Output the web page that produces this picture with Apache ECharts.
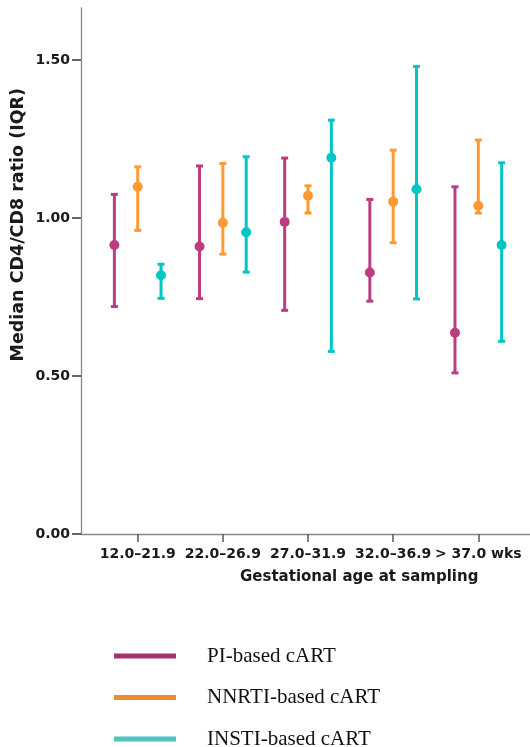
<!DOCTYPE html>
<html><head><meta charset="utf-8">
<script src="https://cdn.jsdelivr.net/npm/echarts@6/dist/echarts.min.js"></script>
<style>html,body{margin:0;padding:0;background:#fff}#c{width:530px;height:747px}</style>
</head><body><div id="c"></div>
<script>
const categories = ['12.0\u201321.9', '22.0\u201326.9', '27.0\u201331.9', '32.0\u201336.9', '> 37.0 wks'];
const yTicks = [0, 0.5, 1.0, 1.5];
const seriesNames = ['PI-based cART', 'NNRTI-based cART', 'INSTI-based cART'];
// [low (Q1), median, high (Q3)] per category
const piValues = [[0.72, 0.915, 1.075], [0.745, 0.91, 1.165], [0.708, 0.988, 1.19], [0.737, 0.828, 1.059], [0.51, 0.637, 1.099]];
const nnrtiValues = [[0.961, 1.099, 1.162], [0.886, 0.985, 1.173], [1.016, 1.071, 1.102], [0.922, 1.052, 1.215], [1.016, 1.039, 1.247]];
const instiValues = [[0.746, 0.819, 0.854], [0.829, 0.955, 1.194], [0.578, 1.191, 1.31], [0.744, 1.091, 1.48], [0.61, 0.915, 1.175]];
const colors = ['#bc3c80', '#ff9933', '#00c6c6'];
const legendColors = ['#a8306e', '#f08a30', '#4fc4c0'];
const groupOffsets = [-0.274, 0, 0.274];

const allValues = [piValues, nnrtiValues, instiValues];

function renderItem(params, api) {
  const x = api.value(0), lo = api.value(1), med = api.value(2), hi = api.value(3);
  const pLo = api.coord([x, lo]), pHi = api.coord([x, hi]), pMed = api.coord([x, med]);
  const c = api.visual('color');
  const cap = 3.5;
  return {
    type: 'group',
    children: [
      {type: 'line', shape: {x1: pLo[0], y1: pLo[1], x2: pHi[0], y2: pHi[1]}, style: {stroke: c, lineWidth: 3}},
      {type: 'line', shape: {x1: pLo[0] - cap, y1: pLo[1], x2: pLo[0] + cap, y2: pLo[1]}, style: {stroke: c, lineWidth: 3}},
      {type: 'line', shape: {x1: pHi[0] - cap, y1: pHi[1], x2: pHi[0] + cap, y2: pHi[1]}, style: {stroke: c, lineWidth: 3}},
      {type: 'circle', shape: {cx: pMed[0], cy: pMed[1], r: 5}, style: {fill: c}}
    ]
  };
}

const series = allValues.map((vals, s) => ({
  name: seriesNames[s],
  type: 'custom',
  renderItem: renderItem,
  itemStyle: {color: colors[s]},
  encode: {x: 0, y: [1, 2, 3]},
  data: vals.map((v, i) => [i + groupOffsets[s], v[0], v[1], v[2]])
}));

const chart = echarts.init(document.getElementById('c'), null, {renderer: 'canvas'});
chart.setOption({
  animation: false,
  backgroundColor: '#fff',
  grid: {left: 81, right: 0, top: 8, bottom: 213, containLabel: false},
  xAxis: {
    type: 'value', min: -0.666, max: 4.607,
    splitLine: {show: false},
    axisLine: {show: true, onZero: false, lineStyle: {color: '#888', width: 1.3}},
    axisTick: {show: true, customValues: [0, 1, 2, 3, 4], length: 8, lineStyle: {color: '#555', width: 1.5}},
    axisLabel: {customValues: [0, 1, 2, 3, 4], formatter: v => categories[Math.round(v)], color: '#1a1a1a',
      fontFamily: 'DejaVu Sans', fontSize: 14, fontWeight: 'bold', margin: 13}
  },
  yAxis: {
    type: 'value', min: 0, max: 1.665,
    splitLine: {show: false},
    axisLine: {show: true, onZero: false, lineStyle: {color: '#888', width: 1.3}},
    axisTick: {show: true, customValues: yTicks, length: 9, lineStyle: {color: '#333', width: 1.5}},
    axisLabel: {customValues: yTicks, formatter: v => v.toFixed(2), color: '#1a1a1a',
      fontFamily: 'DejaVu Sans', fontSize: 14, fontWeight: 'bold', margin: 11}
  },
  legend: {
    orient: 'vertical', left: 114, top: 645, height: 160, padding: 0, itemWidth: 62, itemHeight: 5, itemGap: 19.5,
    icon: 'rect',
    data: seriesNames.map((n, i) => ({name: n, itemStyle: {color: legendColors[i]}})),
    textStyle: {fontFamily: 'Liberation Serif', fontSize: 21, color: '#111', padding: [0, 0, 0, 26], height: 22, lineHeight: 22}
  },
  graphic: [
    {type: 'text', left: 9, top: 88, rotation: Math.PI / 2, originX: 0, originY: 0,
      style: {text: 'Median CD4/CD8 ratio (IQR)', font: 'bold 17.5px "DejaVu Sans"', fill: '#1a1a1a'}},
    {type: 'text', left: 240, top: 570,
      style: {text: 'Gestational age at sampling', font: 'bold 15px "DejaVu Sans"', fill: '#1a1a1a'}}
  ],
  series: series
});
</script></body></html>
